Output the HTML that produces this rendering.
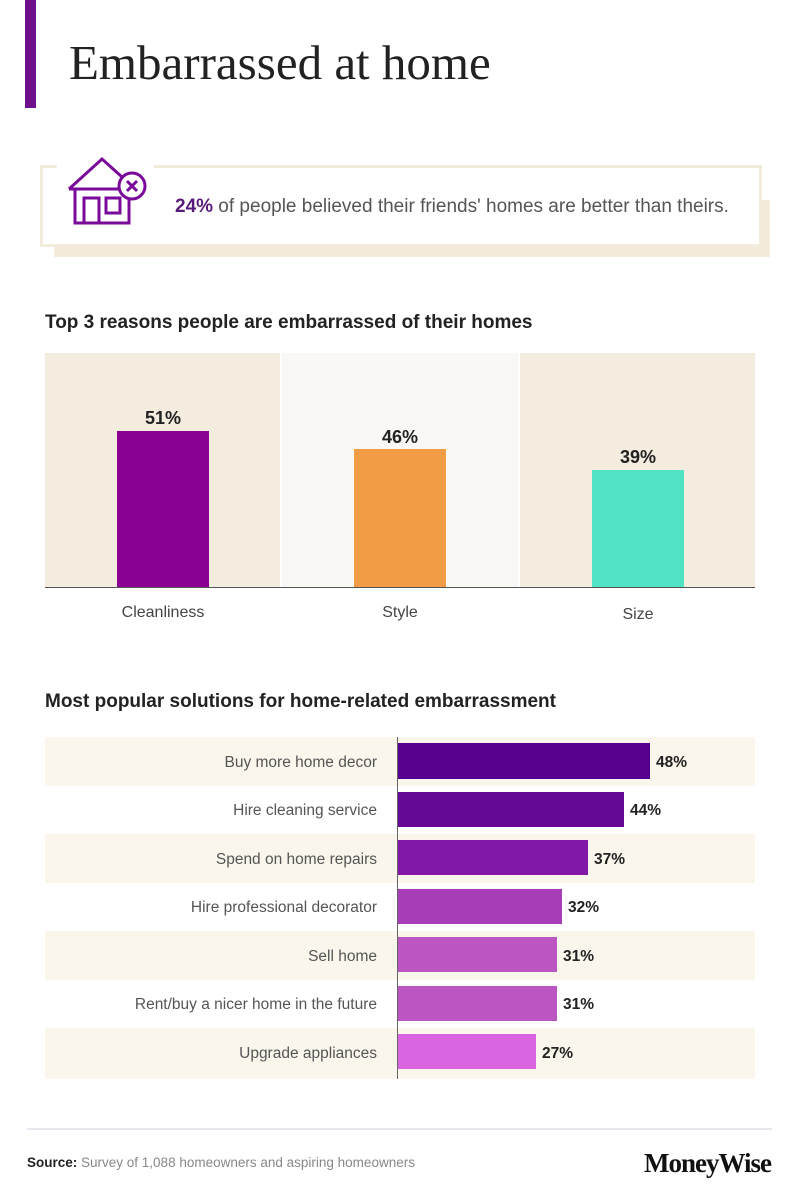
<!DOCTYPE html>
<html><head><meta charset="utf-8"><style>
html,body{margin:0;padding:0;background:#fff;}
svg{display:block;}
text{font-family:"Liberation Sans",Arial,sans-serif;}
</style></head><body>
<svg width="801" height="1199" viewBox="0 0 801 1199" xmlns="http://www.w3.org/2000/svg">
<rect x="25" y="0" width="11" height="108" fill="#6e0f8c"/>
<text x="69" y="79" font-size="49" fill="#222" style="font-family:'Liberation Serif',serif">Embarrassed at home</text>

<!-- callout -->
<rect x="54" y="200" width="716" height="57" fill="#f3ecdc"/>
<rect x="41.5" y="166.5" width="719" height="79" fill="#fff" stroke="#f3ecdc" stroke-width="3"/>
<rect x="57" y="160" width="97" height="12" fill="#fff"/>
<g fill="none" stroke="#7a0a99" stroke-width="3">
<polyline points="69,189 102,159 122,177"/>
<line x1="69" y1="189" x2="120" y2="189"/>
<polyline points="75,189 75,223 129,223 129,198"/>
<rect x="84" y="198" width="15" height="25"/>
<rect x="106" y="198" width="14" height="15"/>
<circle cx="132" cy="186" r="13" fill="#fff"/>
<line x1="127" y1="181" x2="137" y2="191"/>
<line x1="137" y1="181" x2="127" y2="191"/>
</g>
<text x="175" y="212" font-size="19" fill="#555"><tspan fill="#5a1a7a" font-weight="bold">24%</tspan> of people believed their friends' homes are better than theirs.</text>

<!-- chart 1 -->
<text x="45" y="328" font-size="19" font-weight="bold" fill="#222">Top 3 reasons people are embarrassed of their homes</text>
<rect x="45" y="353" width="235" height="234" fill="#f3ecdf"/>
<rect x="282" y="353" width="236" height="234" fill="#faf8f4"/>
<rect x="520" y="353" width="235" height="234" fill="#f3ecdf"/>
<rect x="117" y="431" width="92" height="156" fill="#8a0090"/>
<rect x="354" y="449" width="92" height="138" fill="#f29c45"/>
<rect x="592" y="470" width="92" height="117" fill="#52e3c4"/>
<line x1="45" y1="587.5" x2="755" y2="587.5" stroke="#555" stroke-width="1"/>
<g font-size="18" font-weight="bold" fill="#222" text-anchor="middle">
<text x="163" y="424">51%</text><text x="400" y="443">46%</text><text x="638" y="463">39%</text>
</g>
<g font-size="16" fill="#444" text-anchor="middle">
<text x="163" y="617">Cleanliness</text><text x="400" y="617">Style</text><text x="638" y="619">Size</text>
</g>

<!-- chart 2 -->
<text x="45" y="707" font-size="19" font-weight="bold" fill="#222">Most popular solutions for home-related embarrassment</text>
<g fill="#faf6ec">
<rect x="45" y="737" width="710" height="49"/>
<rect x="45" y="834" width="710" height="49"/>
<rect x="45" y="931" width="710" height="49"/>
<rect x="45" y="1028" width="710" height="51"/>
</g>
<g>
<rect x="397" y="743" width="253" height="36" fill="#56008f"/>
<rect x="397" y="792" width="227" height="35" fill="#660896"/>
<rect x="397" y="840" width="191" height="35" fill="#8219a6"/>
<rect x="397" y="889" width="165" height="35" fill="#a83db8"/>
<rect x="397" y="937" width="160" height="35" fill="#bb55c2"/>
<rect x="397" y="986" width="160" height="35" fill="#bb55c2"/>
<rect x="397" y="1034" width="139" height="35" fill="#d966e0"/>
</g>
<line x1="397.5" y1="737" x2="397.5" y2="1079" stroke="#666" stroke-width="1"/>
<g font-size="15.5" fill="#555" text-anchor="end">
<text x="377" y="767">Buy more home decor</text>
<text x="377" y="815">Hire cleaning service</text>
<text x="377" y="864">Spend on home repairs</text>
<text x="377" y="912">Hire professional decorator</text>
<text x="377" y="961">Sell home</text>
<text x="377" y="1009">Rent/buy a nicer home in the future</text>
<text x="377" y="1058">Upgrade appliances</text>
</g>
<g font-size="15.5" font-weight="bold" fill="#222">
<text x="656" y="767">48%</text>
<text x="630" y="815">44%</text>
<text x="594" y="864">37%</text>
<text x="568" y="912">32%</text>
<text x="563" y="961">31%</text>
<text x="563" y="1009">31%</text>
<text x="542" y="1058">27%</text>
</g>

<!-- footer -->
<line x1="27" y1="1129" x2="772" y2="1129" stroke="#ebe6ef" stroke-width="2"/>
<text x="27" y="1167" font-size="13.5" fill="#888"><tspan font-weight="bold" fill="#222">Source:</tspan> Survey of 1,088 homeowners and aspiring homeowners</text>
<text x="771" y="1172" font-size="27" font-weight="bold" fill="#111" text-anchor="end" style="font-family:'Liberation Serif',serif" letter-spacing="-1">MoneyWise</text>
</svg>
</body></html>
